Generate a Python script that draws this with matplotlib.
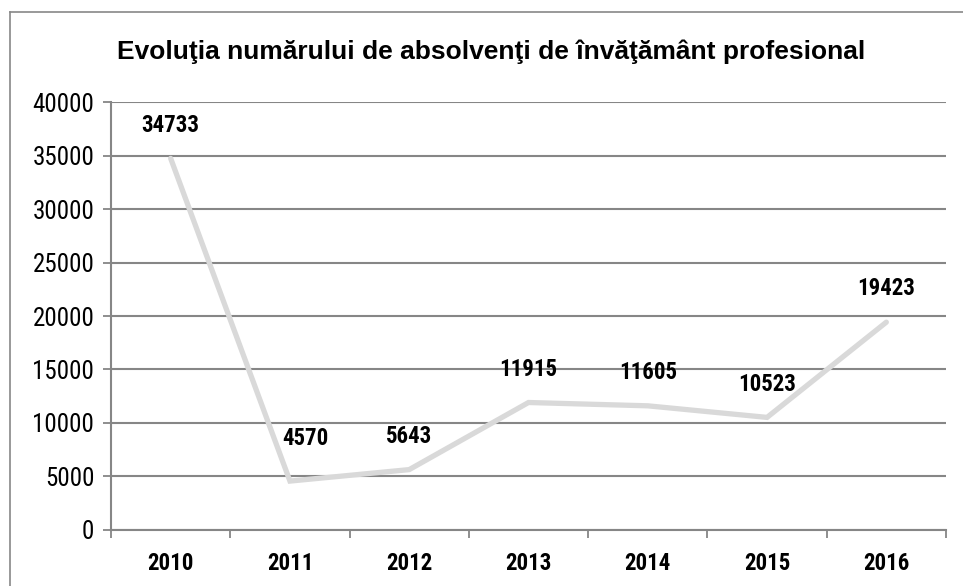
import matplotlib
matplotlib.use('Agg')
import matplotlib.pyplot as plt
from matplotlib.lines import Line2D

plt.rcParams['font.family'] = ['Roboto Condensed', 'DejaVu Sans']

# absolvenţi pe ani
ani = ['2010', '2011', '2012', '2013', '2014', '2015', '2016']
absolventi = [34733, 4570, 5643, 11915, 11605, 10523, 19423]
titlu = 'Evoluţia numărului de absolvenţi de învăţământ profesional'

fig = plt.figure(figsize=(9.63, 5.86), dpi=100)
ax = fig.add_axes([0.1153, 0.0956, 0.867, 0.7303])

x = list(range(len(ani)))
ax.plot(x, absolventi, color='#d9d9d9', linewidth=3.8, solid_capstyle='round',
        solid_joinstyle='miter', zorder=3)

# etichete de valori deasupra punctelor
for i, v in enumerate(absolventi):
    dx, dy = 0, 24
    if v == 4570:
        dx, dy = 11, 31
    ax.annotate(str(v), (i, v), xytext=(dx, dy), textcoords='offset points',
                ha='center', va='center', fontsize=16.5, fontweight='bold', zorder=4)

ax.set_xlim(-0.5, len(ani) - 0.5)
ax.set_ylim(0, 40000)
ax.set_yticks(range(0, 40001, 5000))
ax.set_yticklabels([str(t) for t in range(0, 40001, 5000)], fontsize=18)
ax.set_xticks(x)
ax.set_xticklabels(ani, fontsize=16.5, fontweight='bold')
ax.set_xticks([i - 0.5 for i in range(len(ani) + 1)], minor=True)
ax.tick_params(axis='x', which='major', length=0, pad=16)
ax.tick_params(axis='x', which='minor', length=6, width=1.3, color='#868686')
ax.tick_params(axis='y', length=6, width=1.3, color='#868686', pad=6)

ax.grid(axis='y', color='#868686', linewidth=1.5)
ax.set_axisbelow(True)
for s in ['top', 'right']:
    ax.spines[s].set_visible(False)
for s in ['left', 'bottom']:
    ax.spines[s].set_color('#868686')
    ax.spines[s].set_linewidth(1.5)

fig.text(0.51, 0.911, titlu, ha='center', va='center', fontsize=19, fontweight='bold',
         family=['Liberation Sans', 'DejaVu Sans'])

# chenarul graficului
fig.add_artist(Line2D([0.0104, 0.0104], [0, 0.9795], color='#888888', linewidth=1.2))
fig.add_artist(Line2D([0.0104, 1.0], [0.9795, 0.9795], color='#888888', linewidth=1.2))

fig.savefig('out.png', dpi=100)
